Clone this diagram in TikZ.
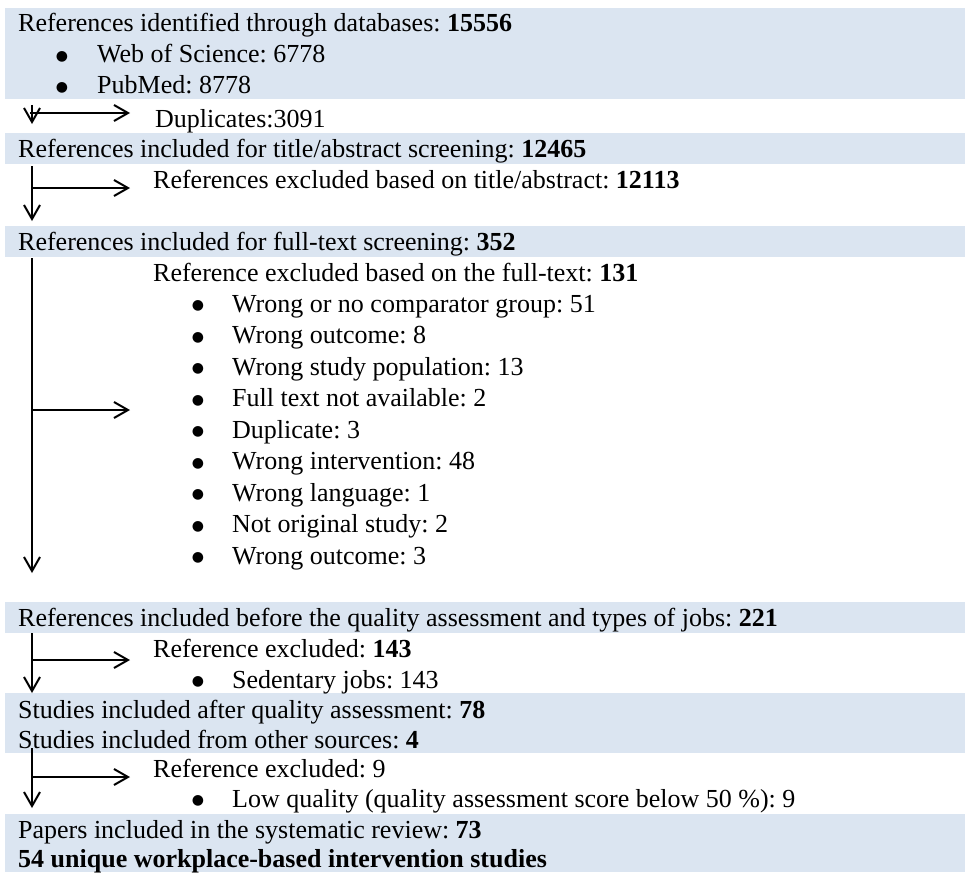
\documentclass[tikz,border=0pt]{standalone}
\usepackage{fontspec}
\setmainfont{Liberation Serif}
\newfontfamily\symfont{DejaVu Sans}
\usetikzlibrary{arrows.meta}
\definecolor{bandblue}{HTML}{DBE5F1}
\frenchspacing
\begin{document}
\begin{tikzpicture}[x=1pt,y=-1pt,
  band/.style={fill=bandblue,draw=none,anchor=north west,inner sep=0,minimum width=960pt},
  txt/.style={anchor=base west,inner sep=0,font=\fontsize{26}{31}\selectfont\frenchspacing},
  bul/.style={anchor=center,inner sep=0,font=\symfont\fontsize{14}{14}\selectfont},
  flow/.style={line width=2pt,-{Straight Barb[length=14pt,width=16pt,line width=2pt]}}]
\useasboundingbox (0,0) rectangle (965,872);
% bands
\node[band,minimum height=91pt] (b1) at (5,8) {};
\node[band,minimum height=31pt] (b2) at (5,133) {};
\node[band,minimum height=31pt] (b3) at (5,226) {};
\node[band,minimum height=31pt] (b4) at (5,602) {};
\node[band,minimum height=60pt] (b5) at (5,693) {};
\node[band,minimum height=58pt] (b6) at (5,814) {};
% texts
\node[txt] (t1) at (18,32) {References identified through databases: \textbf{15556}};
\node[bul] (d1) at (62,57) {●};
\node[txt] (t1a) at (97,63) {Web of Science: 6778};
\node[bul] (d2) at (62,88) {●};
\node[txt] (t1b) at (97,94) {PubMed: 8778};
\node[txt] (x1) at (155,127) {Duplicates:3091};
\node[txt] (t2) at (18,157) {References included for title/abstract screening: \textbf{12465}};
\node[txt] (x2) at (153,188) {References excluded based on title/abstract: \textbf{12113}};
\node[txt] (t3) at (18,250) {References included for full-text screening: \textbf{352}};
\node[txt] (x3) at (153,281) {Reference excluded based on the full-text: \textbf{131}};
\foreach \y/\s [count=\i] in {312/Wrong or no comparator group: 51,
  343.5/Wrong outcome: 8,
  375/Wrong study population: 13,
  406.5/Full text not available: 2,
  438/Duplicate: 3,
  469.5/Wrong intervention: 48,
  501/Wrong language: 1,
  532.5/Not original study: 2,
  564/Wrong outcome: 3}{
  \node[bul] (e\i) at (198,\y-6) {●};
  \node[txt] (r\i) at (232,\y) {\s};
}
\node[txt] (t4) at (18,626) {References included before the quality assessment and types of jobs: \textbf{221}};
\node[txt] (x4) at (153,657) {Reference excluded: \textbf{143}};
\node[bul] (f1) at (198,682) {●};
\node[txt] (x4a) at (232,688) {Sedentary jobs: 143};
\node[txt] (t5) at (18,718) {Studies included after quality assessment: \textbf{78}};
\node[txt] (t5b) at (18,748) {Studies included from other sources: \textbf{4}};
\node[txt] (x5) at (153,777) {Reference excluded: 9};
\node[bul] (g1) at (198,801) {●};
\node[txt] (x5a) at (232,807) {Low quality (quality assessment score below 50 \%): 9};
\node[txt] (t6) at (18,838) {Papers included in the systematic review: \textbf{73}};
\node[txt] (t6b) at (18,867) {\textbf{54 unique workplace-based intervention studies}};
% connector coordinates
\coordinate (v1s) at (32,105); \coordinate (v1e) at (32,124);
\coordinate (h1s) at (30,113); \coordinate (h1e) at (130,113);
\coordinate (v2s) at (32,166); \coordinate (v2e) at (32,221);
\coordinate (h2s) at (32,188); \coordinate (h2e) at (130,188);
\coordinate (v3s) at (32,258); \coordinate (v3e) at (32,573);
\coordinate (h3s) at (32,410); \coordinate (h3e) at (130,410);
\coordinate (v4s) at (32,633); \coordinate (v4e) at (32,693);
\coordinate (h4s) at (32,660); \coordinate (h4e) at (130,660);
\coordinate (v5s) at (32,748); \coordinate (v5e) at (32,808);
\coordinate (h5s) at (32,777); \coordinate (h5e) at (130,777);
% connectors
\foreach \k in {1,...,5}{
  \draw[flow] (v\k s) -- (v\k e);
  \draw[flow] (h\k s) -- (h\k e);
}
\end{tikzpicture}
\end{document}
